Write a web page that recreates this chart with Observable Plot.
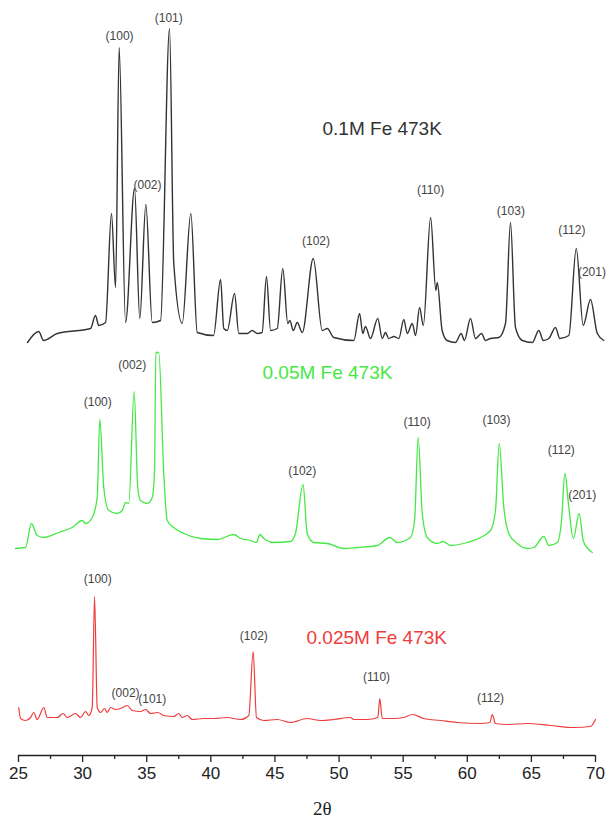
<!DOCTYPE html>
<html>
<head>
<meta charset="utf-8">
<script src="https://cdn.jsdelivr.net/npm/d3@7"></script>
<script src="https://cdn.jsdelivr.net/npm/@observablehq/plot@0.6"></script>
<style>
  html, body { margin: 0; padding: 0; background: #fff; }
  #chart svg { display: block; }
</style>
</head>
<body>
<div id="chart"></div>
<script>
// ---- 0.1M Fe 473K (black) : 2θ and intensity (a.u., above its own baseline)
const blackTwoTheta = [25.7,26.58,26.95,28.02,30.62,31.0,31.26,31.79,32.25,32.57,
  32.85,33.35,34.05,34.46,34.93,35.43,36.08,36.78,37.11,37.77,
  38.44,38.94,40.21,40.76,41.01,41.28,41.85,42.18,42.84,43.23,
  43.62,44.0,44.34,44.66,45.18,45.61,46.0,46.16,46.43,46.74,
  47.13,47.99,48.69,49.08,49.59,51.15,51.6,51.85,52.06,52.45,
  53.02,53.37,53.62,53.88,54.27,54.66,55.05,55.32,55.71,55.97,
  56.28,56.57,57.14,57.55,57.66,58.04,58.43,59.08,59.52,59.78,
  60.25,60.64,61.11,61.42,61.81,62.46,62.98,63.37,63.76,64.29,
  65.07,65.58,65.93,66.36,66.88,67.22,67.92,68.5,69.04,69.61,
  70.14,70.65];
const blackIntensity = [-2,9,0,7,12,25,15,18,127,53,
  293,18,152,22,136,18,20,312,77,17,
  127,8,5,61,12,10,47,7,7,10,
  7,8,64,10,12,72,17,20,10,18,
  8,82,10,12,3,0,27,7,14,2,
  22,2,8,2,4,2,21,7,17,5,
  33,15,123,50,58,10,0,-2,7,0,
  22,2,7,0,2,3,17,118,13,0,
  -2,10,0,2,13,2,5,92,15,41,
  7,0];

// ---- 0.05M Fe 473K (green)
const greenTwoTheta = [24.77,25.55,26.01,26.46,26.97,28.14,29.19,29.97,30.23,30.75,
  31.14,31.34,31.65,32.04,32.7,33.09,33.35,33.6,34.02,34.3,
  34.51,35.04,35.43,35.61,35.71,35.94,36.33,36.6,37.11,37.89,
  39.2,40.5,41.79,42.31,43.1,43.56,43.82,44.13,44.91,46.21,
  46.6,47.19,47.52,48.03,49.08,50.37,51.42,52.98,53.96,54.54,
  55.57,55.89,56.17,56.49,56.88,57.66,58.12,58.7,59.99,61.03,
  61.81,62.2,62.49,62.85,63.24,63.89,64.67,65.19,65.97,66.36,
  67.02,67.35,67.61,67.92,68.27,68.73,69.04,69.4,69.75];
const greenIntensity = [0,1,25,13,11,16,21,28,25,31,
  51,129,61,38,35,38,46,45,157,61,
  48,45,51,78,196,196,75,28,21,15,
  10,9,14,10,8,6,14,10,6,7,
  15,64,15,6,5,0,1,3,11,6,
  11,28,111,35,11,5,7,3,6,11,
  18,38,105,41,15,5,0,1,12,3,
  6,28,75,41,10,35,8,0,-4];

// ---- 0.025M Fe 473K (red)
const redTwoTheta = [25.02,25.16,25.55,25.94,26.19,26.46,26.97,27.24,28.02,28.49,
  28.8,29.45,29.84,30.23,30.48,30.75,30.93,31.14,31.4,31.71,
  31.92,32.18,32.57,32.96,33.48,33.87,34.52,34.91,35.3,35.86,
  36.33,37.11,37.5,37.77,38.16,38.55,39.45,40.23,41.28,42.31,
  42.96,43.3,43.56,44.13,45.18,46.21,47.51,48.55,49.59,50.89,
  51.15,52.19,53.02,53.18,53.37,54.27,55.05,55.71,56.61,57.91,
  59.22,61.03,61.76,61.95,62.2,63.12,64.67,66.49,68.31,69.61,
  70.0];
const redIntensity = [15,4,2,5,10,3,15,5,5,9,
  5,9,5,11,7,15,126,15,10,14,
  10,15,13,14,17,12,11,13,9,10,
  7,6,9,5,7,3,4,4,5,3,
  7,71,5,2,3,0,4,2,3,5,
  3,3,5,24,4,4,5,8,4,2,
  0,-1,0,8,-1,-2,-1,-3,-5,-4,
  3];

// ---- series names and vertical offsets (a.u.)
const seriesNames = ["0.1M Fe 473K", "0.05M Fe 473K", "0.025M Fe 473K"];
const seriesOffsets = [415, 207, 33];
const seriesColors = ["#333333", "#45e845", "#ef3c3c"];
const seriesWidths = [1.4, 1.3, 1.2];

// ---- reflection labels (hkl), 2θ position and height above each baseline
const blackHkl = ["(100)","(101)","(002)","(102)","(110)","(103)","(112)","(201)"];
const blackHklTwoTheta = [32.88,36.72,35.06,48.2,57.14,63.4,68.16,69.72];
const blackHklHeight = [304,322,155,99,150,129,110,68];

const greenHkl = ["(100)","(002)","(102)","(110)","(103)","(112)","(201)"];
const greenHklTwoTheta = [31.18,33.87,47.13,56.09,62.28,67.33,68.96];
const greenHklHeight = [146,183,77,126,128,98,53];

const redHkl = ["(100)","(002)","(101)","(102)","(110)","(112)"];
const redHklTwoTheta = [31.18,33.35,35.43,43.35,52.92,61.81];
const redHklHeight = [143,29,23,86,45,24];

// ---- series title positions (left edge 2θ, height above baseline)
const titleTwoTheta = [48.71, 44.03, 47.46];
const titleHeight = [212, 176, 85];

// ---- axis ticks
const majorTicks = [25,30,35,40,45,50,55,60,65,70];
const minorTicks = [27.5,32.5,37.5,42.5,47.5,52.5,57.5,62.5,67.5];
const xLabel = "2θ";

// build tables
const traces = [
  [blackTwoTheta, blackIntensity],
  [greenTwoTheta, greenIntensity],
  [redTwoTheta, redIntensity]
];
const traceRows = traces.flatMap(([tt, ii], s) =>
  tt.map((t, i) => ({series: seriesNames[s], t, v: ii[i] + seriesOffsets[s]})));

const hklSets = [
  [blackHkl, blackHklTwoTheta, blackHklHeight],
  [greenHkl, greenHklTwoTheta, greenHklHeight],
  [redHkl, redHklTwoTheta, redHklHeight]
];
const hklRows = hklSets.flatMap(([lab, tt, hh], s) =>
  lab.map((l, i) => ({text: l, t: tt[i], v: hh[i] + seriesOffsets[s]})));

const titleRows = seriesNames.map((n, s) => ({
  text: n, t: titleTwoTheta[s], v: titleHeight[s] + seriesOffsets[s], color: seriesColors[s]
}));

const lineMarks = seriesNames.map((n, s) =>
  Plot.line(traceRows.filter(d => d.series === n), {
    x: "t", y: "v",
    stroke: seriesColors[s],
    strokeWidth: seriesWidths[s],
    curve: "monotone-x"
  }));

const chart = Plot.plot({
  width: 611,
  height: 828,
  marginLeft: 18,
  marginRight: 16,
  marginTop: 0,
  marginBottom: 73,
  style: {fontFamily: "'Liberation Sans', Arial, sans-serif", color: "#222", background: "#fff"},
  x: {domain: [25, 70]},
  y: {domain: [0, 755], axis: null},
  marks: [
    ...lineMarks,
    Plot.text(hklRows, {x: "t", y: "v", text: "text", fontSize: 12, fill: "#444"}),
    Plot.text(titleRows, {x: "t", y: "v", text: "text", fill: d => d.color, fontSize: 19, textAnchor: "start"}),
    Plot.ruleY([0], {stroke: "#222", strokeWidth: 1.5}),
    Plot.axisX(majorTicks, {tickSize: 7, tickPadding: 4, fontSize: 17, tickFormat: d => String(d), label: null, strokeWidth: 1.3}),
    Plot.axisX(minorTicks, {tickSize: 4, tickFormat: () => "", label: null, strokeWidth: 1.3}),
    Plot.text([xLabel], {x: () => 48.7, y: () => 0, text: d => d, dy: 53, fontSize: 19, fontFamily: "'Liberation Serif', 'DejaVu Serif', serif", fill: "#222"})
  ]
});
document.getElementById("chart").appendChild(chart);
</script>
</body>
</html>
